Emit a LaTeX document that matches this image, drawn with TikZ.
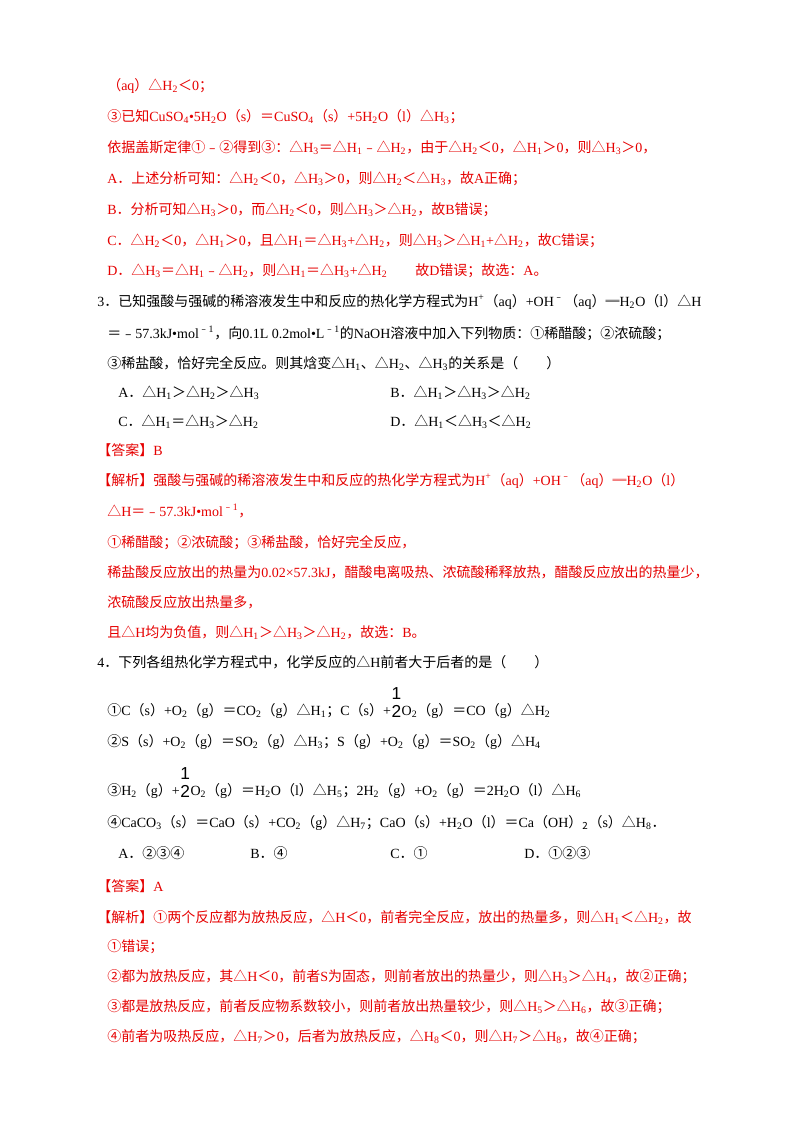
\documentclass[tikz,border=0pt]{standalone}
\usepackage{fontspec}
\setmainfont{Liberation Serif}
\newfontfamily\cjk{Noto Sans CJK SC}
\newfontfamily\latinf{Liberation Serif}
\newfontfamily\fracf{Liberation Sans}
\XeTeXinterchartokenstate=1
\newXeTeXintercharclass\CJKcls
\newcommand\setcls[2]{\count255=#1 \loop \XeTeXcharclass\count255=\CJKcls \ifnum\count255<#2 \advance\count255 by 1 \repeat}
\setcls{"4E00}{"9FFF}
\setcls{"3000}{"303F}
\setcls{"FF00}{"FFEF}
\setcls{"FE30}{"FE6F}
\setcls{"2460}{"24FF}
\setcls{"25A0}{"25FF}
\setcls{"2500}{"257F}
\XeTeXinterchartoks 0 \CJKcls = {\cjk}
\XeTeXinterchartoks 4095 \CJKcls = {\cjk}
\XeTeXinterchartoks \CJKcls 0 = {\latinf}
\newcommand\dn[1]{\textsubscript{#1}}
\newcommand\up[1]{\textsuperscript{#1}}
\definecolor{ans}{RGB}{230,0,0}
\tikzset{ln/.style={anchor=base west,inner sep=0pt,font=\fontsize{10.5}{12}\selectfont},
 rd/.style={ln,text=ans}, bk/.style={ln,text=black},
 fr/.style={anchor=base west,inner sep=0pt,font=\fontsize{13}{13}\fracf,align=center}}
\begin{document}
\begin{tikzpicture}[x=0.75pt,y=-0.75pt]
\useasboundingbox (0,0) rectangle (800,1132);
\fill[white] (0,0) rectangle (800,1132);
\node[rd] (l1) at (107,90) {（aq）△H\dn{2}＜0；};
\node[rd] (l2) at (107,121) {③已知CuSO\dn{4}•5H\dn{2}O（s）＝CuSO\dn{4}（s）+5H\dn{2}O（l）△H\dn{3}；};
\node[rd] (l3) at (107,152) {依据盖斯定律①﹣②得到③：△H\dn{3}＝△H\dn{1}﹣△H\dn{2}，由于△H\dn{2}＜0，△H\dn{1}＞0，则△H\dn{3}＞0，};
\node[rd] (l4) at (107,183) {A．上述分析可知：△H\dn{2}＜0，△H\dn{3}＞0，则△H\dn{2}＜△H\dn{3}，故A正确；};
\node[rd] (l5) at (107,214) {B．分析可知△H\dn{3}＞0，而△H\dn{2}＜0，则△H\dn{3}＞△H\dn{2}，故B错误；};
\node[rd] (l6) at (107,245) {C．△H\dn{2}＜0，△H\dn{1}＞0，且△H\dn{1}＝△H\dn{3}+△H\dn{2}，则△H\dn{3}＞△H\dn{1}+△H\dn{2}，故C错误；};
\node[rd] (l7) at (107,275) {D．△H\dn{3}＝△H\dn{1}﹣△H\dn{2}，则△H\dn{1}＝△H\dn{3}+△H\dn{2}\qquad 故D错误；故选：A。};
\node[bk] (q3a) at (97,306) {3．已知强酸与强碱的稀溶液发生中和反应的热化学方程式为H\up{+}（aq）+OH\up{﹣}（aq）═H\dn{2}O（l）△H};
\node[bk] (q3b) at (107,338) {＝﹣57.3kJ•mol\up{﹣1}，向0.1L 0.2mol•L\up{﹣1}的NaOH溶液中加入下列物质：①稀醋酸；②浓硫酸；};
\node[bk] (q3c) at (107,368) {③稀盐酸，恰好完全反应。则其焓变△H\dn{1}、△H\dn{2}、△H\dn{3}的关系是（　　）};
\node[bk] (o3a) at (118,397) {A．△H\dn{1}＞△H\dn{2}＞△H\dn{3}};
\node[bk] (o3b) at (390,397) {B．△H\dn{1}＞△H\dn{3}＞△H\dn{2}};
\node[bk] (o3c) at (118,426) {C．△H\dn{1}＝△H\dn{3}＞△H\dn{2}};
\node[bk] (o3d) at (390,426) {D．△H\dn{1}＜△H\dn{3}＜△H\dn{2}};
\node[rd] (a3) at (97,455) {【答案】B};
\node[rd] (j1) at (97,485) {【解析】强酸与强碱的稀溶液发生中和反应的热化学方程式为H\up{+}（aq）+OH\up{﹣}（aq）═H\dn{2}O（l）};
\node[rd] (j2) at (107,516) {△H＝﹣57.3kJ•mol\up{﹣1}，};
\node[rd] (j3) at (107,547) {①稀醋酸；②浓硫酸；③稀盐酸，恰好完全反应，};
\node[rd] (j4) at (107,577) {稀盐酸反应放出的热量为0.02×57.3kJ，醋酸电离吸热、浓硫酸稀释放热，醋酸反应放出的热量少，};
\node[rd] (j5) at (107,607) {浓硫酸反应放出热量多，};
\node[rd] (j6) at (107,637) {且△H均为负值，则△H\dn{1}＞△H\dn{3}＞△H\dn{2}，故选：B。};
\node[bk] (q4) at (97,667) {4．下列各组热化学方程式中，化学反应的△H前者大于后者的是（　　）};
\node[bk] (e1a) at (107,715) {①C（s）+O\dn{2}（g）＝CO\dn{2}（g）△H\dn{1}；C（s）+};
\node[fr] (f1) at ([yshift=-2pt]e1a.base east) {1\\[1pt]2};
\node[bk] (e1b) at (f1.base east |- e1a.base) {O\dn{2}（g）＝CO（g）△H\dn{2}};
\node[bk] (e2) at (107,746) {②S（s）+O\dn{2}（g）＝SO\dn{2}（g）△H\dn{3}；S（g）+O\dn{2}（g）＝SO\dn{2}（g）△H\dn{4}};
\node[bk] (e3a) at (107,795) {③H\dn{2}（g）+};
\node[fr] (f3) at ([yshift=-2pt]e3a.base east) {1\\[1pt]2};
\node[bk] (e3b) at (f3.base east |- e3a.base) {O\dn{2}（g）＝H\dn{2}O（l）△H\dn{5}；2H\dn{2}（g）+O\dn{2}（g）＝2H\dn{2}O（l）△H\dn{6}};
\node[bk] (e4) at (107,827) {④CaCO\dn{3}（s）＝CaO（s）+CO\dn{2}（g）△H\dn{7}；CaO（s）+H\dn{2}O（l）＝Ca（OH）\dn{2}（s）△H\dn{8}．};
\node[bk] (o4a) at (118,858) {A．②③④};
\node[bk] (o4b) at (250,858) {B．④};
\node[bk] (o4c) at (390,858) {C．①};
\node[bk] (o4d) at (524,858) {D．①②③};
\node[rd] (a4) at (97,891) {【答案】A};
\node[rd] (k1) at (97,922) {【解析】①两个反应都为放热反应，△H＜0，前者完全反应，放出的热量多，则△H\dn{1}＜△H\dn{2}，故};
\node[rd] (k2) at (107,951) {①错误；};
\node[rd] (k3) at (107,981) {②都为放热反应，其△H＜0，前者S为固态，则前者放出的热量少，则△H\dn{3}＞△H\dn{4}，故②正确；};
\node[rd] (k4) at (107,1011) {③都是放热反应，前者反应物系数较小，则前者放出热量较少，则△H\dn{5}＞△H\dn{6}，故③正确；};
\node[rd] (k5) at (107,1041) {④前者为吸热反应，△H\dn{7}＞0，后者为放热反应，△H\dn{8}＜0，则△H\dn{7}＞△H\dn{8}，故④正确；};
\end{tikzpicture}
\end{document}
